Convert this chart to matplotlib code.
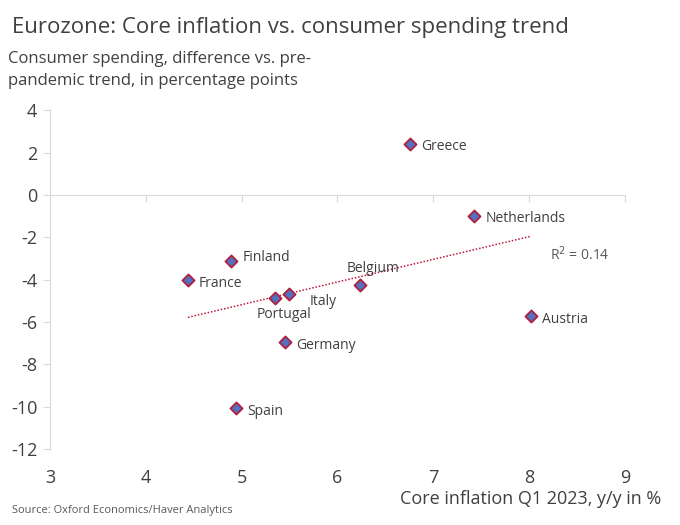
import numpy as np
import matplotlib.pyplot as plt

plt.rcParams['font.family'] = ['Open Sans', 'DejaVu Sans']
plt.rcParams['axes.unicode_minus'] = False

countries = ["Greece", "Netherlands", "Finland", "France", "Portugal", "Italy",
             "Belgium", "Austria", "Germany", "Spain"]
core_infl = [6.76, 7.43, 4.89, 4.44, 5.35, 5.49, 6.24, 8.02, 5.45, 4.94]
spending = [2.4, -1.0, -3.1, -4.0, -4.85, -4.66, -4.24, -5.74, -6.96, -10.07]

# label offsets in points (dx, dy), baseline relative to point
offsets = {"Greece": (8, -4), "Netherlands": (8, -4), "Finland": (8, 0),
           "France": (8, -5), "Portugal": (-13, -15), "Italy": (15, -8.5),
           "Belgium": (-10, 9), "Austria": (8, -5), "Germany": (8, -5),
           "Spain": (8, -5)}

txt = "#404040"
fig = plt.figure(figsize=(6.8, 5.25), dpi=100)
ax = fig.add_axes([0.0735, 0.145, 0.8455, 0.645])

ax.scatter(core_infl, spending, marker="D", s=38, facecolor="#5470C0",
           edgecolor="#B0203C", linewidth=1.3, zorder=3)
for c, x, y in zip(countries, core_infl, spending):
    dx, dy = offsets[c]
    ax.annotate(c, (x, y), xytext=(dx, dy), textcoords="offset points",
                fontsize=10, color=txt, va="baseline")

# linear trend
k, b = np.polyfit(core_infl, spending, 1)
xs = np.array([min(core_infl), max(core_infl)])
ax.plot(xs, k * xs + b, ls=(0, (1, 1.2)), color="#C0183C", lw=1.1, zorder=2)
ax.text(8.53, -2.83, "R$^2$ = 0.14", fontsize=10, color="#595959", ha="center", va="center")

ax.set_xlim(3, 9)
ax.set_ylim(-12, 4)
ax.set_xticks(range(3, 10))
ax.set_yticks(range(-12, 5, 2))
ax.spines["top"].set_visible(False)
ax.spines["right"].set_visible(False)
ax.spines["bottom"].set_position(("data", 0))
ax.spines["bottom"].set_color("#d9d9d9")
ax.spines["left"].set_color("#d9d9d9")
# x labels sit below the plot, far from the axis line at y=0
ax.tick_params(axis="x", colors="#d9d9d9", labelcolor=txt, labelsize=13,
               direction="out", length=5, pad=192)
ax.tick_params(axis="y", colors="#d9d9d9", labelcolor=txt, labelsize=13,
               direction="out", length=5, pad=4)

fig.text(0.018, 0.968, "Eurozone: Core inflation vs. consumer spending trend",
         fontsize=16, color=txt, va="top")
fig.text(0.012, 0.902, "Consumer spending, difference vs. pre-\npandemic trend, in percentage points",
         fontsize=12, color=txt, va="top", linespacing=1.45)
fig.text(0.588, 0.032, "Core inflation Q1 2023, y/y in %", fontsize=13, color=txt, va="bottom")
fig.text(0.018, 0.018, "Source: Oxford Economics/Haver Analytics", fontsize=8, color="#595959", va="bottom")

fig.savefig("out.png", dpi=100)
